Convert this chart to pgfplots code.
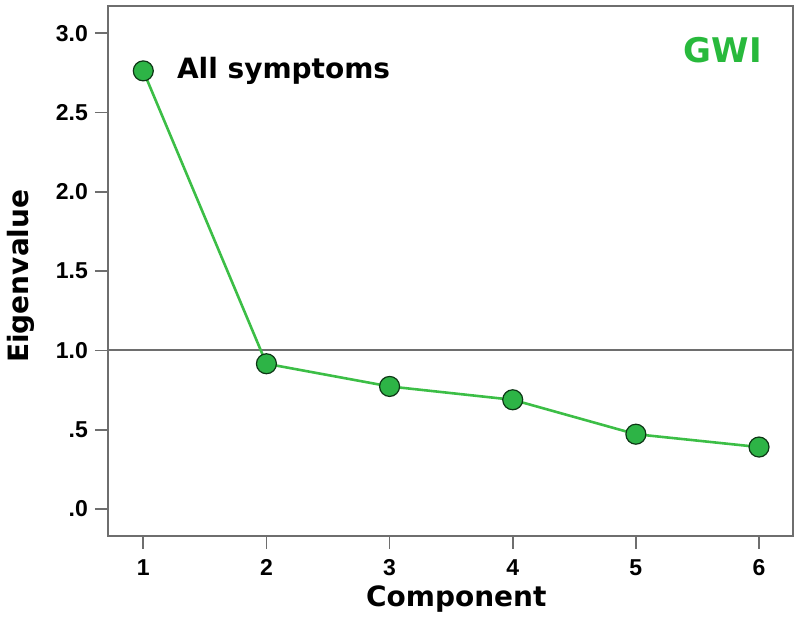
\documentclass[border=0pt]{standalone}
\usepackage{fontspec}
\setmainfont{DejaVu Sans}
\newfontfamily\tickfont{Liberation Sans}
\usepackage{pgfplots}
\pgfplotsset{compat=1.18}
\definecolor{lineg}{RGB}{60,190,70}
\definecolor{markg}{RGB}{45,180,70}
\definecolor{textg}{RGB}{40,185,60}
\definecolor{axgray}{RGB}{110,110,110}
\begin{document}
\begin{tikzpicture}
  \begin{axis}[
    at={(0,0)}, anchor=south west,
    scale only axis,
    width=342.7pt, height=265pt,
    xmin=0.713, xmax=6.276,
    ymin=-0.168, ymax=3.171,
    xtick={1,2,3,4,5,6},
    ytick={0,0.5,1,1.5,2,2.5,3},
    yticklabels={.0,.5,1.0,1.5,2.0,2.5,3.0},
    /pgf/number format/assume math mode=true,
    tick label style={font=\tickfont\bfseries\fontsize{11.5}{13}\selectfont, text=black},
    xticklabel style={yshift=-2pt},
    tick align=outside,
    major tick length=6.5pt,
    tick style={axgray, line width=0.9pt},
    axis line style={axgray, line width=1pt},
    xtick pos=bottom, ytick pos=left,
    clip=false,
  ]
    \addplot[axgray, line width=1pt, forget plot] coordinates {(0.713,1) (6.276,1)};
    \addplot[lineg, line width=1.3pt, mark=*, mark size=5pt,
      mark options={fill=markg, draw=black!70!markg, line width=0.6pt}]
      coordinates {(1,2.762) (2,0.916) (3,0.773) (4,0.689) (5,0.472) (6,0.391)};
    \node[anchor=base west, font=\bfseries\fontsize{14}{16}\selectfont]
      at (rel axis cs:0.0905,0.864) {All symptoms};
    \node[anchor=base east, text=textg, font=\bfseries\fontsize{17}{19}\selectfont]
      at (rel axis cs:0.9646,0.894) {GWI};
    \node[anchor=base, font=\bfseries\fontsize{14}{16}\selectfont]
      at (rel axis cs:0.5085,0) [yshift=-35.5pt] {Component};
    \node[anchor=base, rotate=90, font=\bfseries\fontsize{14}{16}\selectfont]
      at (rel axis cs:-0.1167,0.49) {Eigenvalue};
  \end{axis}
  \path[use as bounding box] (-54pt,-42pt) rectangle (346.2pt,268pt);
\end{tikzpicture}
\end{document}
